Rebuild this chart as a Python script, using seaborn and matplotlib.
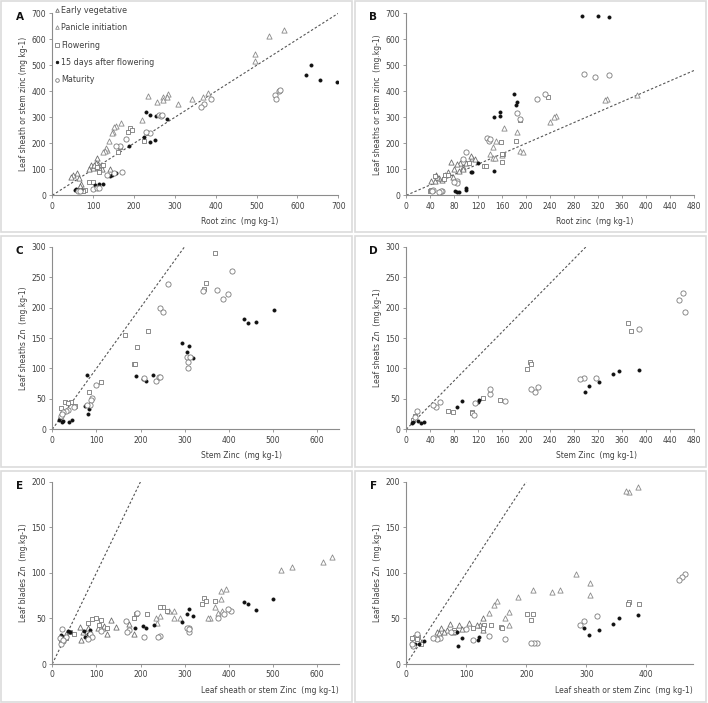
import matplotlib
matplotlib.use("Agg")
import matplotlib.pyplot as plt
from matplotlib.patches import Rectangle
import seaborn as sns
import pandas as pd

sns.set_style("ticks")
plt.rcParams["font.family"] = ["DejaVu Sans"]

STAGES = ["Early vegetative", "Panicle initiation", "Flowering",
          "15 days after flowering", "Maturity"]

# ---- panel A: root zinc vs leaf sheath / stem zinc (mg kg-1) ----
A_EARLY = [(112, 120), (110, 145), (105, 110), (100, 105), (95, 115), (90, 102),
           (118, 115), (122, 100), (140, 100), (60, 85), (50, 80), (45, 70),
           (65, 65), (70, 45), (68, 35), (108, 125), (115, 105), (102, 118)]
A_PANICLE = [(530, 612), (568, 637), (497, 543), (496, 518), (380, 393), (370, 378),
             (343, 370), (308, 352), (284, 390), (280, 380), (270, 380), (272, 366),
             (257, 357), (235, 382), (220, 290), (168, 278), (157, 265), (152, 262),
             (148, 245), (146, 240), (138, 210), (135, 175), (132, 182), (128, 170),
             (125, 165)]
A_FLOWER = [(160, 165), (165, 185), (185, 245), (190, 260), (195, 250), (235, 240),
            (90, 50), (100, 50), (80, 20), (75, 18), (110, 110), (115, 90),
            (125, 115), (225, 207)]
A_DAF15 = [(632, 502), (622, 462), (655, 442), (697, 435), (230, 320), (238, 310),
           (255, 305), (280, 295), (225, 225), (240, 205), (252, 212), (187, 190),
           (155, 85), (145, 80), (140, 75), (125, 45), (115, 45), (105, 38),
           (55, 20), (60, 20), (65, 22), (58, 25), (70, 20)]
A_MATURE = [(545, 385), (548, 372), (555, 400), (557, 405), (372, 350), (365, 340),
            (388, 370), (262, 310), (265, 305), (268, 308), (240, 238), (230, 245),
            (180, 218), (165, 190), (155, 188), (135, 80), (150, 87), (170, 90),
            (100, 25), (110, 30), (115, 28), (62, 15), (68, 17)]

# ---- panel B ----
B_EARLY = [(110, 145), (108, 150), (115, 140), (100, 125), (95, 110), (90, 125),
           (85, 120), (80, 100), (75, 128), (70, 90), (65, 80), (60, 60), (55, 65),
           (50, 78), (48, 55), (42, 55), (52, 70), (78, 70), (88, 95), (95, 100)]
B_PANICLE = [(385, 385), (335, 370), (332, 365), (250, 305), (247, 303), (240, 282),
             (185, 242), (163, 257), (150, 210), (145, 187), (140, 160), (190, 170),
             (195, 165), (160, 155), (145, 145), (148, 143)]
B_FLOWER = [(237, 378), (190, 290), (183, 208), (158, 205), (160, 130), (162, 160),
            (160, 158), (130, 112), (133, 113), (105, 125), (63, 62), (65, 80),
            (70, 78), (48, 75), (40, 15), (42, 20)]
B_DAF15 = [(293, 690), (320, 688), (338, 686), (179, 388), (183, 347), (185, 358),
           (157, 322), (157, 305), (147, 300), (146, 95), (120, 123), (108, 88),
           (110, 88), (100, 30), (100, 22), (82, 15), (85, 12), (88, 13), (57, 15)]
B_MATURE = [(297, 465), (315, 455), (338, 462), (218, 372), (232, 388), (185, 318),
            (135, 220), (138, 210), (140, 217), (100, 167), (95, 140), (85, 55),
            (85, 48), (80, 50), (45, 20), (43, 15), (60, 18), (58, 15), (55, 12),
            (190, 295)]

# ---- panel C ----
C_FLOWER = [(368, 290), (348, 241), (345, 230), (192, 135), (218, 162), (165, 155),
            (185, 107), (188, 107), (83, 62), (110, 77), (42, 45), (28, 45),
            (35, 43), (20, 35), (52, 38)]
C_DAF15 = [(502, 196), (462, 177), (443, 174), (435, 181), (295, 141), (310, 137),
           (305, 127), (320, 117), (190, 87), (205, 82), (212, 80), (228, 90),
           (78, 89), (75, 39), (83, 33), (82, 25), (45, 15), (38, 12), (25, 13),
           (22, 12), (18, 18), (15, 15), (20, 20)]
C_MATURE = [(407, 260), (262, 239), (245, 200), (250, 192), (373, 229), (398, 222),
            (388, 214), (342, 228), (305, 118), (308, 110), (308, 100), (312, 119),
            (208, 85), (235, 80), (243, 86), (245, 86), (98, 72), (90, 51), (88, 48),
            (85, 40), (78, 40), (50, 37), (35, 32), (30, 30), (25, 28), (20, 22),
            (22, 25)]

# ---- panel D ----
D_FLOWER = [(370, 175), (375, 162), (207, 110), (208, 108), (202, 99), (157, 48),
            (128, 52), (110, 28), (110, 26), (78, 29), (70, 30), (15, 22), (12, 15)]
D_DAF15 = [(388, 97), (355, 95), (345, 91), (322, 77), (305, 71), (298, 61),
           (122, 48), (120, 45), (93, 46), (85, 37), (30, 12), (25, 11), (20, 13),
           (12, 12), (10, 10)]
D_MATURE = [(462, 224), (455, 213), (465, 193), (388, 165), (317, 85), (297, 84),
            (290, 82), (220, 70), (215, 62), (208, 66), (165, 46), (140, 58),
            (140, 67), (115, 44), (113, 24), (56, 45), (50, 36), (45, 40), (18, 30),
            (15, 20)]

# ---- panel E ----
E_EARLY = [(185, 33), (175, 44), (145, 41), (133, 48), (125, 33), (115, 40),
           (118, 42), (103, 40), (82, 40), (63, 41), (65, 26), (30, 33), (70, 35)]
E_PANICLE = [(635, 117), (613, 112), (543, 106), (518, 103), (393, 82), (383, 80),
             (383, 71), (368, 62), (375, 56), (358, 51), (352, 50), (385, 58),
             (290, 51), (275, 58), (277, 51), (265, 58), (245, 53), (238, 45),
             (235, 50)]
E_FLOWER = [(345, 72), (340, 66), (348, 69), (368, 69), (250, 62), (245, 62),
            (260, 58), (190, 55), (185, 51), (215, 55), (110, 48), (100, 50),
            (90, 49), (82, 45), (105, 43), (50, 33), (40, 35), (30, 28), (22, 30),
            (20, 25), (125, 40)]
E_DAF15 = [(501, 71), (462, 59), (443, 66), (435, 68), (320, 53), (310, 60),
           (305, 55), (295, 46), (230, 43), (212, 40), (205, 42), (187, 40),
           (85, 37), (80, 33), (75, 30), (72, 36), (40, 35), (35, 36), (25, 30),
           (20, 28), (20, 32)]
E_MATURE = [(405, 58), (398, 60), (390, 55), (375, 51), (310, 40), (305, 40),
            (310, 35), (310, 38), (245, 31), (240, 30), (208, 30), (192, 56),
            (175, 37), (168, 47), (170, 35), (110, 36), (85, 33), (90, 30), (80, 27),
            (30, 30), (25, 25), (20, 22), (18, 28), (22, 38), (25, 26)]

# ---- panel F ----
F_EARLY = [(128, 50), (128, 37), (123, 43), (118, 43), (105, 45), (88, 43),
           (93, 38), (73, 44), (68, 37), (58, 40), (63, 35), (52, 35), (55, 34),
           (78, 35)]
F_PANICLE = [(387, 194), (372, 189), (367, 190), (283, 99), (307, 89), (306, 76),
             (257, 81), (243, 79), (212, 81), (187, 74), (152, 69), (146, 65),
             (138, 56), (171, 57), (165, 50), (172, 43)]
F_FLOWER = [(388, 66), (372, 68), (370, 66), (212, 55), (202, 55), (208, 48),
            (158, 41), (160, 39), (142, 43), (130, 43), (128, 40), (112, 40),
            (80, 37), (82, 35), (20, 30), (15, 30), (10, 28), (18, 27), (25, 22)]
F_DAF15 = [(387, 54), (355, 50), (345, 44), (322, 37), (305, 32), (297, 40),
           (122, 30), (120, 26), (93, 29), (86, 20), (85, 35), (30, 25), (22, 22),
           (15, 22), (12, 21), (10, 23)]
F_MATURE = [(465, 99), (460, 95), (455, 92), (318, 53), (297, 47), (290, 43),
            (218, 23), (213, 23), (208, 23), (165, 27), (138, 31), (112, 26),
            (57, 28), (52, 27), (45, 29), (18, 33), (12, 20), (10, 22), (75, 35),
            (100, 38)]

# marker look per stage
STYLE = {
    "Early vegetative": dict(marker="^", s=14, facecolor="white", edgecolor="#6e6e6e"),
    "Panicle initiation": dict(marker="^", s=14, facecolor="white", edgecolor="#8a8a8a"),
    "Flowering": dict(marker="s", s=10, facecolor="white", edgecolor="#7a7a7a"),
    "15 days after flowering": dict(marker="o", s=5, facecolor="#111111", edgecolor="#111111"),
    "Maturity": dict(marker="o", s=14, facecolor="white", edgecolor="#7a7a7a"),
}

# letter, data, xlim, xstep, ylim, ystep, xlabel, ylabel, axes box in px (l, t, r, b)
panels = [
    ("A", [A_EARLY, A_PANICLE, A_FLOWER, A_DAF15, A_MATURE], 700, 100, 700, 100,
     "Root zinc  (mg kg-1)", "Leaf sheath or stem zinc (mg kg-1)", (52.3, 13.3, 338.3, 195.3)),
    ("B", [B_EARLY, B_PANICLE, B_FLOWER, B_DAF15, B_MATURE], 480, 40, 700, 100,
     "Root zinc  (mg kg-1)", "Leaf sheaths or stem zinc  (mg.kg-1)", (406.3, 13.3, 694, 195.3)),
    ("C", [[], [], C_FLOWER, C_DAF15, C_MATURE], 650, 100, 300, 50,
     "Stem Zinc  (mg kg-1)", "Leaf sheaths Zn  (mg.kg-1)", (52.3, 246.7, 339, 429.3)),
    ("D", [[], [], D_FLOWER, D_DAF15, D_MATURE], 480, 40, 300, 50,
     "Stem Zinc  (mg kg-1)", "Leaf sheats Zn  (mg.kg-1)", (406.3, 246.7, 694, 429.3)),
    ("E", [E_EARLY, E_PANICLE, E_FLOWER, E_DAF15, E_MATURE], 650, 100, 200, 50,
     "Leaf sheath or stem Zinc  (mg kg-1)", "Leaf blades Zn  (mg.kg-1)", (52.3, 481.7, 339, 664)),
    ("F", [F_EARLY, F_PANICLE, F_FLOWER, F_DAF15, F_MATURE], 478, 100, 200, 50,
     "Leaf sheath or stem Zinc  (mg kg-1)", "Leaf blades Zn  (mg.kg-1)", (406.3, 481.7, 693, 664)),
]

W, H = 708, 703
fig = plt.figure(figsize=(W / 100, H / 100), dpi=100)

# light grey frames around each panel cell
for x0, y0 in [(1, 1), (355, 1), (1, 236), (355, 236), (1, 471), (355, 471)]:
    fig.patches.append(Rectangle((x0 / W, 1 - (y0 + 231) / H), 351 / W, 231 / H,
                                 transform=fig.transFigure, fill=False,
                                 edgecolor="#dcdcdc", linewidth=1.2))

for letter, sets, xmax, xstep, ymax, ystep, xlab, ylab, (l, t, r, b) in panels:
    ax = fig.add_axes([l / W, 1 - b / H, (r - l) / W, (b - t) / H])
    rows = []
    for stage, pts in zip(STAGES, sets):
        rows += [{"x": px, "y": py, "stage": stage} for px, py in pts]
    df = pd.DataFrame(rows)

    # 1:1 line
    lim = min(xmax, ymax)
    ax.plot([0, lim], [0, lim], linestyle=(0, (2.2, 1.8)), color="#555555", lw=0.8, zorder=1)

    for stage in STAGES:
        sub = df[df["stage"] == stage]
        st = STYLE[stage]
        sns.scatterplot(data=sub, x="x", y="y", ax=ax, marker=st["marker"], s=st["s"],
                        facecolor=st["facecolor"], edgecolor=st["edgecolor"],
                        linewidth=0.6, label=stage, zorder=3, legend=False)

    ax.set_xlim(0, xmax)
    ax.set_ylim(0, ymax)
    ax.set_xticks(range(0, xmax + 1, xstep))
    ax.set_yticks(range(0, ymax + 1, ystep))
    sns.despine(ax=ax)
    for side in ["left", "bottom"]:
        ax.spines[side].set_color("#8c8c8c")
        ax.spines[side].set_linewidth(0.8)
    ax.tick_params(length=2.5, width=0.6, color="#8c8c8c", labelsize=5.5,
                   labelcolor="#404040", pad=2)

    ax.set_xlabel(xlab, fontsize=5.5, color="#404040")
    ax.xaxis.set_label_coords(0.52, -0.12)
    ax.xaxis.label.set_horizontalalignment("left")
    ax.xaxis.label.set_verticalalignment("top")
    ax.set_ylabel(ylab, fontsize=5.5, color="#404040")
    ax.yaxis.set_label_coords(-0.085, 0.5)

    ax.text(-0.128, 1.005, letter, transform=ax.transAxes, fontsize=7.5,
            fontweight="bold", va="top", ha="left", color="#111111")

    if letter == "A":
        handles = []
        for stage in STAGES:
            st = STYLE[stage]
            handles.append(plt.Line2D([], [], linestyle="none", marker=st["marker"],
                                      markersize=2.6 if st["s"] > 5 else 1.8,
                                      markerfacecolor=st["facecolor"],
                                      markeredgecolor=st["edgecolor"],
                                      markeredgewidth=0.6, label=stage))
        ax.legend(handles=handles, loc="upper left", bbox_to_anchor=(-0.005, 1.06),
                  frameon=False, fontsize=5.8, labelspacing=1.05, handlelength=0.6,
                  handletextpad=0.3, borderaxespad=0, labelcolor="#404040")

fig.savefig("out.png", dpi=100)
